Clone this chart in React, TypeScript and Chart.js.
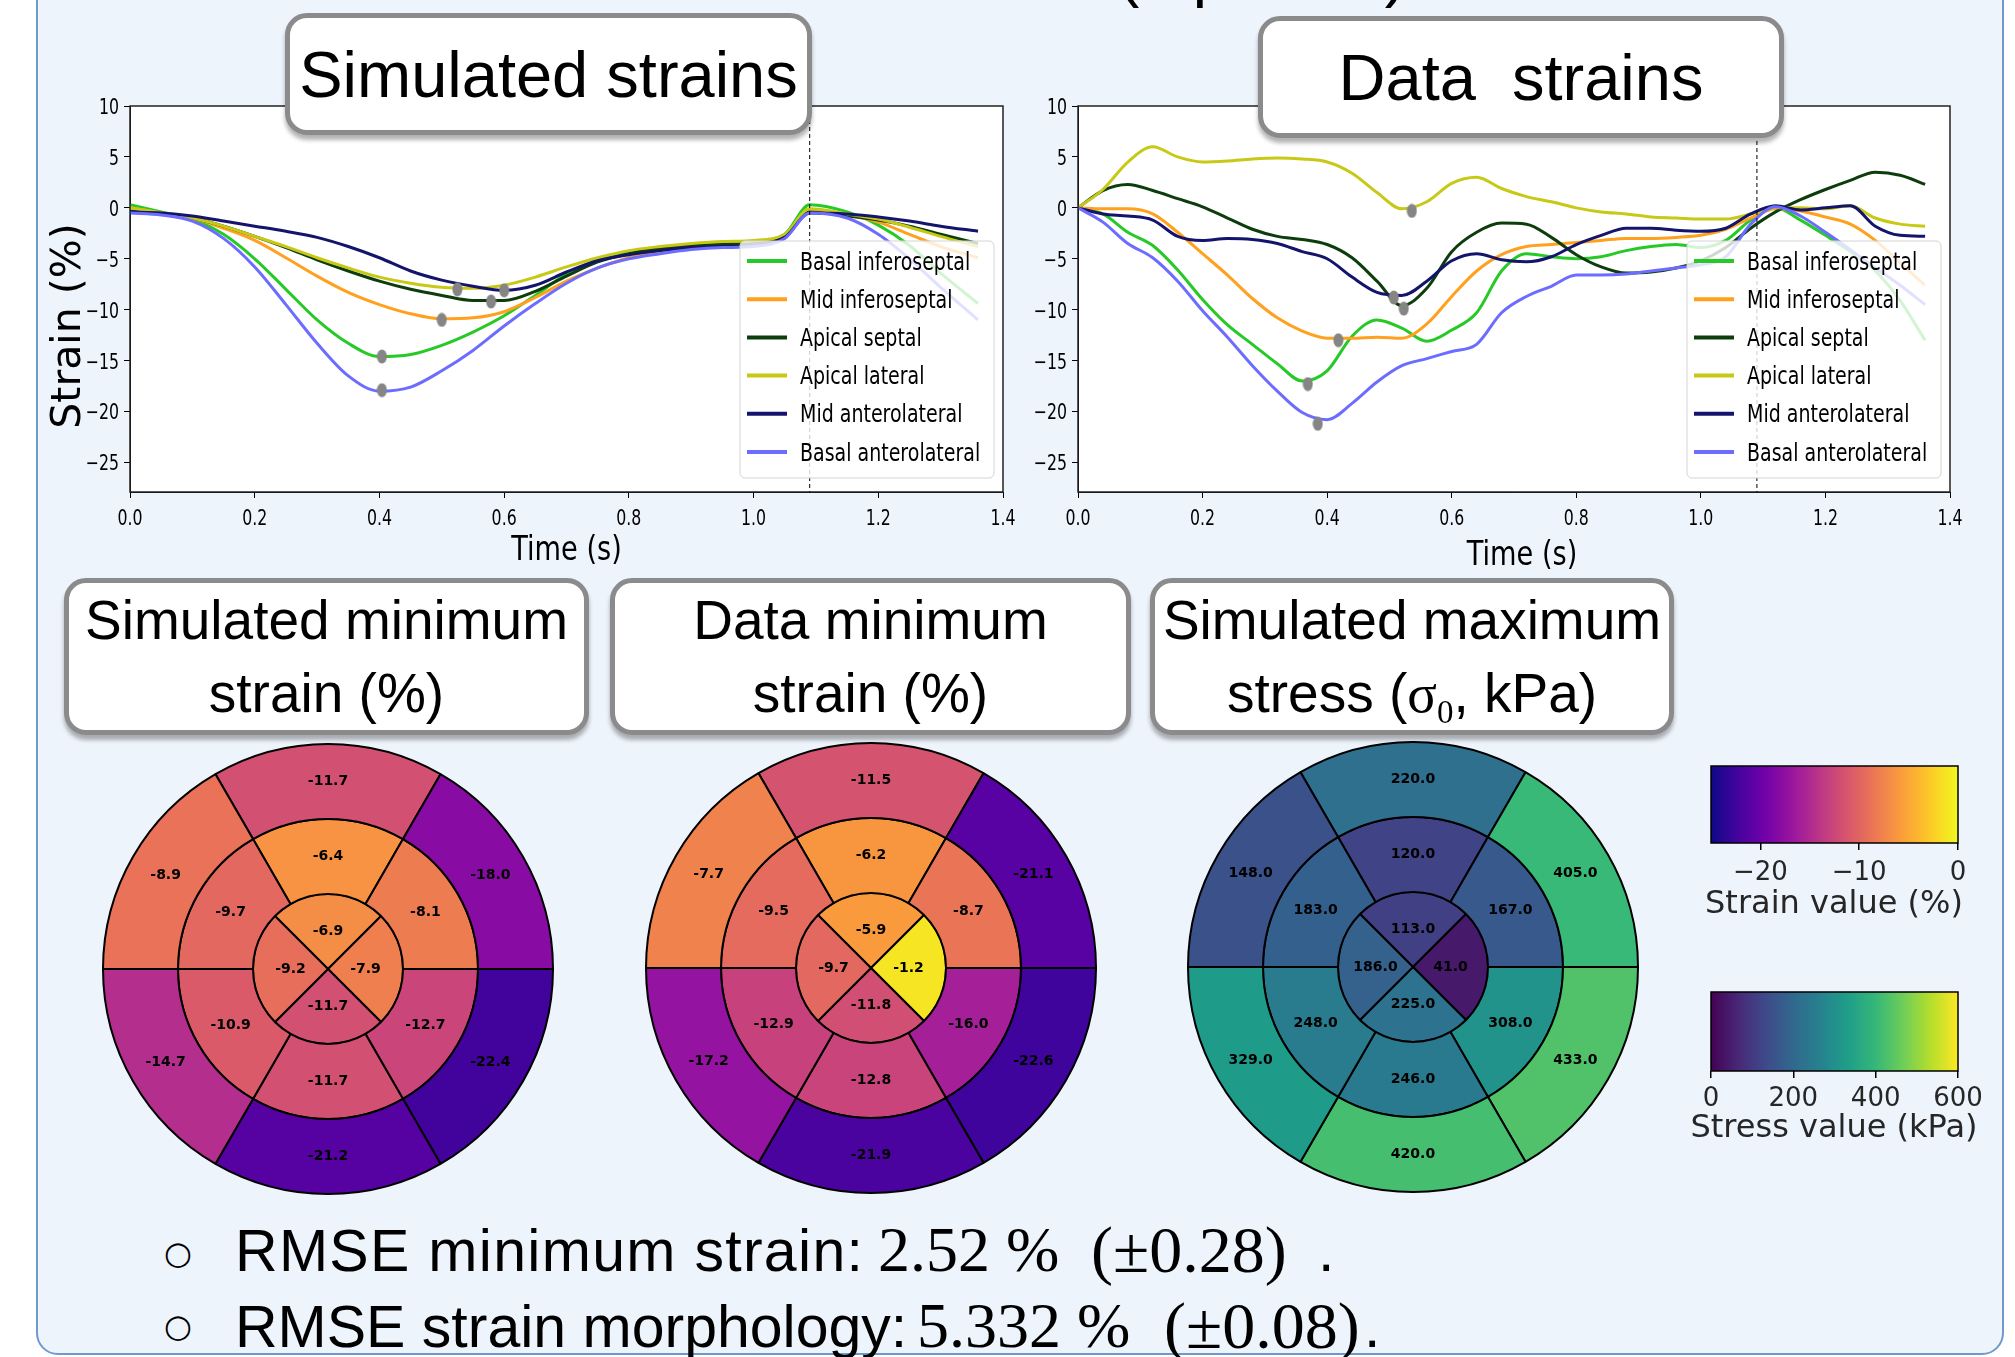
import React, { useEffect, useRef } from 'react';
import { Chart, registerables } from 'chart.js';

Chart.register(...registerables);

// ---------------- DATA ----------------
const segmentNames = ['Basal inferoseptal', 'Mid inferoseptal', 'Apical septal', 'Apical lateral', 'Mid anterolateral', 'Basal anterolateral'];
const seriesColors = ['#27c927', '#ffa11e', '#0d3d0d', '#c8c816', '#14146c', '#6c6cff'];

const timeTicks = [0, 0.2, 0.4, 0.6, 0.8, 1.0, 1.2, 1.4];
const strainTicks = [-25, -20, -15, -10, -5, 0, 5, 10];
const endDiastoleTime = 1.09;

// Simulated strains (%)
const simTime = [0, 0.05, 0.1, 0.15, 0.2, 0.25, 0.3, 0.35, 0.4, 0.45, 0.5, 0.55, 0.6, 0.65, 0.7, 0.75, 0.8, 0.85, 0.9, 0.95, 1.0, 1.05, 1.09, 1.15, 1.2, 1.25, 1.3, 1.36];
const simBasalInferoseptal = [0.3, -0.4, -1.1, -2.6, -5.0, -8.0, -11.0, -13.3, -14.6, -14.4, -13.5, -12.2, -10.6, -8.6, -6.5, -5.1, -4.3, -3.9, -3.6, -3.4, -3.3, -2.6, 0.3, -0.4, -1.7, -3.7, -6.4, -9.4];
const simMidInferoseptal = [0.0, -0.5, -1.0, -2.0, -3.2, -4.9, -6.7, -8.3, -9.5, -10.4, -10.9, -10.8, -10.2, -8.8, -7.2, -5.9, -4.9, -4.3, -3.9, -3.7, -3.6, -2.9, -0.2, -0.7, -1.4, -2.6, -3.8, -4.9];
const simApicalSeptal = [-0.3, -0.6, -1.0, -1.8, -2.8, -3.9, -5.1, -6.2, -7.2, -8.0, -8.6, -9.1, -9.1, -8.2, -6.7, -5.3, -4.5, -4.0, -3.7, -3.6, -3.5, -2.8, -0.4, -0.8, -1.2, -1.8, -2.6, -3.5];
const simApicalLateral = [0.0, -0.5, -1.0, -1.8, -2.8, -3.8, -4.9, -5.9, -6.8, -7.4, -7.8, -7.9, -7.6, -6.8, -5.8, -4.9, -4.2, -3.8, -3.5, -3.3, -3.2, -2.6, -0.1, -0.6, -1.1, -1.9, -2.8, -3.8];
const simMidAnterolateral = [-0.4, -0.5, -0.8, -1.3, -1.8, -2.3, -2.9, -3.8, -4.9, -6.2, -7.1, -7.7, -8.1, -7.6, -6.3, -5.2, -4.6, -4.2, -3.9, -3.8, -3.7, -2.9, -0.5, -0.6, -0.9, -1.3, -1.8, -2.3];
const simBasalAnterolateral = [-0.5, -0.7, -1.3, -3.0, -5.8, -9.5, -13.3, -16.5, -18.0, -17.6, -16.0, -14.0, -11.6, -9.4, -7.4, -5.9, -5.0, -4.5, -4.1, -3.9, -3.8, -3.0, -0.5, -1.0, -2.6, -5.0, -7.8, -11.0];
const simMinTime = [0.404, 0.5, 0.579, 0.525, 0.6, 0.404];
const simMinStrain = [-14.6, -11.0, -9.2, -8.0, -8.1, -17.9];

// Data strains (%)
const dataTime = [0, 0.04, 0.08, 0.12, 0.16, 0.2, 0.24, 0.28, 0.32, 0.36, 0.4, 0.44, 0.48, 0.52, 0.56, 0.6, 0.64, 0.68, 0.72, 0.76, 0.8, 0.84, 0.88, 0.92, 0.96, 1.0, 1.04, 1.08, 1.12, 1.16, 1.2, 1.24, 1.28, 1.32, 1.36];
const dataBasalInferoseptal = [0, -0.6, -2.4, -3.7, -6.1, -9.0, -11.5, -13.4, -15.3, -17.0, -16.0, -12.6, -11.0, -11.8, -13.1, -12.0, -10.3, -6.2, -4.5, -4.8, -5.0, -4.8, -4.2, -3.8, -3.6, -3.9, -3.2, -1.2, 0.0, -1.2, -2.7, -4.3, -6.2, -9.1, -13.0];
const dataMidInferoseptal = [0, -0.1, -0.1, -0.6, -2.4, -4.5, -6.6, -8.9, -10.8, -12.1, -12.8, -12.8, -12.7, -12.8, -11.4, -8.7, -6.2, -4.6, -3.8, -3.6, -3.4, -3.2, -3.0, -3.0, -2.9, -2.7, -2.1, -1.0, -0.1, -0.3, -0.9, -1.6, -3.2, -5.4, -7.6];
const dataApicalSeptal = [0, 1.7, 2.3, 1.7, 0.9, 0.1, -1.0, -2.1, -2.8, -3.1, -3.6, -4.9, -7.2, -9.6, -7.9, -4.3, -2.4, -1.5, -1.6, -2.9, -4.6, -5.8, -6.4, -6.3, -5.9, -5.2, -3.9, -2.0, -0.4, 0.8, 1.8, 2.7, 3.5, 3.2, 2.3];
const dataApicalLateral = [0, 1.8, 4.5, 6.0, 5.0, 4.5, 4.6, 4.8, 4.9, 4.8, 4.5, 3.4, 1.5, -0.1, 0.6, 2.4, 3.0, 1.9, 1.1, 0.6, 0.0, -0.4, -0.6, -0.9, -1.0, -1.1, -1.1, -0.6, 0.0, 0.0, -0.1, 0.2, -1.0, -1.6, -1.8];
const dataMidAnterolateral = [0, -0.6, -0.8, -1.2, -2.8, -3.2, -3.0, -3.1, -3.5, -4.3, -5.0, -6.8, -8.3, -8.6, -7.2, -5.2, -4.5, -5.1, -5.3, -4.8, -3.6, -2.7, -2.0, -2.0, -2.2, -2.3, -2.0, -0.6, 0.2, -0.2, 0.0, 0.2, -1.8, -2.7, -2.8];
const dataBasalAnterolateral = [0, -1.4, -3.5, -4.9, -7.2, -10.1, -12.7, -15.5, -18.0, -20.1, -20.8, -19.2, -17.1, -15.5, -14.8, -14.1, -13.4, -10.3, -8.7, -7.7, -6.6, -6.6, -6.5, -6.2, -5.9, -5.6, -4.8, -1.6, 0.1, -0.8, -2.4, -4.1, -5.9, -7.6, -9.5];
const dataMinTime = [0.369, 0.418, 0.523, 0.536, 0.507, 0.385];
const dataMinStrain = [-17.3, -13.0, -9.9, -0.3, -8.8, -21.2];

// Bullseye values, AHA order: basal 1-6, mid 7-12, apical 13-16
const simStrainBasal = [-11.7, -8.9, -14.7, -21.2, -22.4, -18.0];
const simStrainMid = [-6.4, -9.7, -10.9, -11.7, -12.7, -8.1];
const simStrainApical = [-6.9, -9.2, -11.7, -7.9];
const dataStrainBasal = [-11.5, -7.7, -17.2, -21.9, -22.6, -21.1];
const dataStrainMid = [-6.2, -9.5, -12.9, -12.8, -16.0, -8.7];
const dataStrainApical = [-5.9, -9.7, -11.8, -1.2];
const simStressBasal = [220, 148, 329, 420, 433, 405];
const simStressMid = [120, 183, 248, 246, 308, 167];
const simStressApical = [113, 186, 225, 41];

const strainRange = [-25, 0];
const stressRange = [0, 600];
const strainColorbarTicks = [-20, -10, 0];
const stressColorbarTicks = [0, 200, 400, 600];

// ---------------- STYLE ----------------
const SANS = "'Liberation Sans', Arial, sans-serif";
const DEJAVU = "'DejaVu Sans', sans-serif";
const SERIF = "'Liberation Serif', 'Times New Roman', serif";

const plasmaStops = ['#0d0887', '#46039f', '#7201a8', '#9c179e', '#bd3786', '#d8576b', '#ed7953', '#fb9f3a', '#fdca26', '#f0f921'];
const viridisStops = ['#440154', '#482878', '#3e4a89', '#31688e', '#26828e', '#1f9e89', '#35b779', '#6ece58', '#b5de2b', '#fde725'];

function hexToRgb(h: string) {
  return [parseInt(h.slice(1, 3), 16), parseInt(h.slice(3, 5), 16), parseInt(h.slice(5, 7), 16)];
}
function makeCmap(stops: string[]) {
  const rgb = stops.map(hexToRgb);
  return (t: number) => {
    const c = Math.max(0, Math.min(1, t)) * (rgb.length - 1);
    const i = Math.min(rgb.length - 2, Math.floor(c));
    const f = c - i;
    const a = rgb[i], b = rgb[i + 1];
    return `rgb(${Math.round(a[0] + (b[0] - a[0]) * f)},${Math.round(a[1] + (b[1] - a[1]) * f)},${Math.round(a[2] + (b[2] - a[2]) * f)})`;
  };
}
const plasma = makeCmap(plasmaStops);
const viridis = makeCmap(viridisStops);

const minusFmt = (v: number) => (v < 0 ? '\u2212' + Math.abs(v) : String(v));

function makeMarker() {
  const c = document.createElement('canvas');
  c.width = 11;
  c.height = 15;
  const g = c.getContext('2d')!;
  g.fillStyle = '#858585';
  g.beginPath();
  g.ellipse(5.5, 7.5, 5, 7, 0, 0, Math.PI * 2);
  g.fill();
  return c;
}

// text drawn horizontally condensed (the original figure is squeezed horizontally)
function squeezedText(ctx: CanvasRenderingContext2D, text: string, x: number, y: number, k: number, align: CanvasTextAlign) {
  ctx.save();
  ctx.translate(x, y);
  ctx.scale(k, 1);
  ctx.textAlign = align;
  ctx.fillText(text, 0, 0);
  ctx.restore();
}

// ---------------- LINE CHART ----------------
function StrainChart(props: any) {
  const ref = useRef<HTMLCanvasElement>(null);
  const { left, top, width, height, yAxisWidth, padTop, padRight, xAxisHeight, xTitleY, xTitleDx, time, series, minTime, minStrain, yTitle } = props;
  useEffect(() => {
    const canvas = ref.current!;
    const marker = makeMarker();
    const datasets: any[] = series.map((vals: number[], i: number) => ({
      label: segmentNames[i],
      data: time.map((t: number, k: number) => ({ x: t, y: vals[k] })),
      borderColor: seriesColors[i],
      backgroundColor: seriesColors[i],
      borderWidth: 3,
      pointRadius: 0,
      fill: false,
      cubicInterpolationMode: 'monotone',
      order: 10 - i,
    }));
    datasets.push({
      label: 'minimum',
      data: minTime.map((t: number, i: number) => ({ x: t, y: minStrain[i] })),
      showLine: false,
      pointStyle: marker,
      pointRadius: 6,
      backgroundColor: '#858585',
      borderColor: '#858585',
      order: -1,
    });

    const framePlugin = {
      id: 'frame',
      beforeDraw(chart: any) {
        const { ctx, chartArea: ca } = chart;
        ctx.save();
        ctx.fillStyle = '#ffffff';
        ctx.fillRect(ca.left, ca.top, ca.right - ca.left, ca.bottom - ca.top);
        ctx.restore();
      },
      afterDatasetsDraw(chart: any) {
        const { ctx, chartArea: ca } = chart;
        ctx.save();
        ctx.strokeStyle = '#222';
        ctx.lineWidth = 1.5;
        ctx.strokeRect(ca.left, ca.top, ca.right - ca.left, ca.bottom - ca.top);
        // dashed end-diastole line
        const px = chart.scales.x.getPixelForValue(endDiastoleTime);
        ctx.setLineDash([4, 3]);
        ctx.lineWidth = 1;
        ctx.strokeStyle = '#000';
        ctx.beginPath();
        ctx.moveTo(px, ca.top);
        ctx.lineTo(px, ca.bottom);
        ctx.stroke();
        ctx.setLineDash([]);
        // legend
        const W = 254, H = 237;
        const lx = ca.right - 9 - W, ly = ca.bottom - 14 - H;
        ctx.beginPath();
        (ctx as any).roundRect(lx, ly, W, H, 5);
        ctx.fillStyle = 'rgba(255,255,255,0.8)';
        ctx.fill();
        ctx.strokeStyle = '#d4d4d4';
        ctx.lineWidth = 1;
        ctx.stroke();
        const ds = chart.data.datasets.slice(0, segmentNames.length);
        ds.forEach((d: any, i: number) => {
          const cy = ly + 20 + i * 38.2;
          ctx.strokeStyle = d.borderColor;
          ctx.lineWidth = 4;
          ctx.beginPath();
          ctx.moveTo(lx + 7, cy);
          ctx.lineTo(lx + 47, cy);
          ctx.stroke();
          ctx.fillStyle = '#000';
          ctx.font = `25px ${DEJAVU}`;
          ctx.textBaseline = 'middle';
          squeezedText(ctx, d.label, lx + 60, cy + 2, 0.76, 'left');
        });
        ctx.restore();
      },
      afterDraw(chart: any) {
        const { ctx, chartArea: ca } = chart;
        const xs = chart.scales.x, ys = chart.scales.y;
        ctx.save();
        ctx.fillStyle = '#000';
        ctx.textBaseline = 'middle';
        ctx.font = `21px ${DEJAVU}`;
        xs.ticks.forEach((t: any) => squeezedText(ctx, Number(t.value).toFixed(1), xs.getPixelForValue(t.value), ca.bottom + 28, 0.75, 'center'));
        ys.ticks.forEach((t: any) => squeezedText(ctx, minusFmt(Number(t.value)), ca.left - 11, ys.getPixelForValue(t.value) + 2.5, 0.75, 'right'));
        ctx.font = `34px ${DEJAVU}`;
        squeezedText(ctx, 'Time (s)', (ca.left + ca.right) / 2 + xTitleDx, xTitleY, 0.8, 'center');
        if (yTitle) {
          ctx.translate(yTitle.x, yTitle.y);
          ctx.rotate(-Math.PI / 2);
          ctx.font = `41px ${DEJAVU}`;
          ctx.textAlign = 'center';
          ctx.fillText(yTitle.text, 0, 0);
        }
        ctx.restore();
      },
    };

    const chart = new Chart(canvas, {
      type: 'line',
      data: { datasets },
      options: {
        animation: false,
        responsive: false,
        devicePixelRatio: 1,
        events: [],
        layout: { padding: { top: padTop, right: padRight, left: 0, bottom: 0 } },
        plugins: { legend: { display: false }, tooltip: { enabled: false } },
        scales: {
          x: {
            type: 'linear',
            min: 0,
            max: 1.4,
            afterBuildTicks: (s: any) => { s.ticks = timeTicks.map((v) => ({ value: v })); },
            afterFit: (s: any) => { s.height = xAxisHeight; },
            ticks: { display: false },
            grid: { drawOnChartArea: false, drawTicks: true, tickLength: 6, color: '#000' },
            border: { display: true, color: '#000', width: 1 },
          },
          y: {
            type: 'linear',
            min: -27.9,
            max: 10,
            afterBuildTicks: (s: any) => { s.ticks = strainTicks.map((v) => ({ value: v })); },
            afterFit: (s: any) => { s.width = yAxisWidth; },
            ticks: { display: false },
            grid: { drawOnChartArea: false, drawTicks: true, tickLength: 6, color: '#000' },
            border: { display: true, color: '#000', width: 1 },
          },
        },
      } as any,
      plugins: [framePlugin],
    });
    return () => chart.destroy();
  }, []);
  return <canvas ref={ref} width={width} height={height} style={{ position: 'absolute', left, top, width, height, zIndex: 1 }} />;
}

// ---------------- BULLSEYE ----------------
const ring6Order = [0, 5, 4, 3, 2, 1]; // clockwise from top
const ring4Order = [0, 3, 2, 1];

function Bullseye(props: any) {
  const ref = useRef<HTMLCanvasElement>(null);
  const { cx, cy, basal, mid, apical, cmap, range } = props;
  const size = 456;
  useEffect(() => {
    const col = (v: number) => cmap((v - range[0]) / (range[1] - range[0]));
    const rings = [
      { vals: ring6Order.map((i) => basal[i]), rotation: -30 },
      { vals: ring6Order.map((i) => mid[i]), rotation: -30 },
      { vals: ring4Order.map((i) => apical[i]), rotation: -45 },
    ];
    const datasets = rings.map((r) => ({
      data: r.vals.map(() => 1),
      segmentValues: r.vals,
      backgroundColor: r.vals.map(col),
      borderColor: '#000',
      borderWidth: 2,
      rotation: r.rotation,
    }));
    const labelPlugin = {
      id: 'segLabels',
      afterDatasetsDraw(chart: any) {
        const ctx = chart.ctx;
        ctx.save();
        ctx.font = `bold 14px ${DEJAVU}`;
        ctx.fillStyle = '#000';
        ctx.textAlign = 'center';
        ctx.textBaseline = 'middle';
        chart.data.datasets.forEach((d: any, di: number) => {
          const meta = chart.getDatasetMeta(di);
          meta.data.forEach((arc: any, i: number) => {
            const p = arc.getCenterPoint();
            ctx.fillText(Number(d.segmentValues[i]).toFixed(1), p.x, p.y);
          });
        });
        ctx.restore();
      },
    };
    const chart = new Chart(ref.current!, {
      type: 'doughnut',
      data: { datasets } as any,
      options: {
        animation: false,
        responsive: false,
        devicePixelRatio: 1,
        events: [],
        cutout: 0,
        layout: { padding: 2 },
        plugins: { legend: { display: false }, tooltip: { enabled: false } },
      } as any,
      plugins: [labelPlugin],
    });
    return () => chart.destroy();
  }, []);
  return <canvas ref={ref} width={size} height={size} style={{ position: 'absolute', left: cx - size / 2, top: cy - size / 2, width: size, height: size, zIndex: 1 }} />;
}

// ---------------- COLORBAR ----------------
function Colorbar(props: any) {
  const ref = useRef<HTMLCanvasElement>(null);
  const { left, top, width, height, pad, axisHeight, range, ticks, cmap, tickPad } = props;
  useEffect(() => {
    const gradPlugin = {
      id: 'grad',
      beforeDatasetsDraw(chart: any) {
        const { ctx, chartArea: ca } = chart;
        const g = ctx.createLinearGradient(ca.left, 0, ca.right, 0);
        for (let i = 0; i <= 40; i++) g.addColorStop(i / 40, cmap(i / 40));
        ctx.save();
        ctx.fillStyle = g;
        ctx.fillRect(ca.left, ca.top, ca.right - ca.left, ca.bottom - ca.top);
        ctx.strokeStyle = '#000';
        ctx.lineWidth = 1.5;
        ctx.strokeRect(ca.left, ca.top, ca.right - ca.left, ca.bottom - ca.top);
        ctx.restore();
      },
    };
    const chart = new Chart(ref.current!, {
      type: 'line',
      data: { datasets: [] },
      options: {
        animation: false,
        responsive: false,
        devicePixelRatio: 1,
        events: [],
        layout: { padding: pad },
        plugins: { legend: { display: false }, tooltip: { enabled: false } },
        scales: {
          x: {
            type: 'linear',
            min: range[0],
            max: range[1],
            afterBuildTicks: (s: any) => { s.ticks = ticks.map((v: number) => ({ value: v })); },
            afterFit: (s: any) => { s.height = axisHeight; },
            ticks: { autoSkip: false, maxRotation: 0, padding: tickPad, color: '#262626', font: { family: DEJAVU, size: 26 }, callback: (v: any) => minusFmt(Number(v)) },
            grid: { drawOnChartArea: false, drawTicks: true, tickLength: 7, color: '#000', lineWidth: 1.5 },
            border: { display: false },
          },
          y: { display: false, min: 0, max: 1 },
        },
      } as any,
      plugins: [gradPlugin],
    });
    return () => chart.destroy();
  }, []);
  return <canvas ref={ref} width={width} height={height} style={{ position: 'absolute', left, top, width, height, zIndex: 1 }} />;
}

// ---------------- TITLE BOX ----------------
function TitleBox(props: any) {
  const { left, top, width, height, fontSize, lineHeight, children } = props;
  return (
    <div
      style={{
        position: 'absolute', left, top, width, height, boxSizing: 'border-box',
        background: '#fff', border: '5px solid #8b8b8b', borderRadius: 22,
        boxShadow: '0 5px 4px rgba(0,0,0,0.3)', display: 'flex', flexDirection: 'column',
        alignItems: 'center', justifyContent: 'center', fontFamily: SANS, fontSize,
        lineHeight: lineHeight + 'px', color: '#000', whiteSpace: 'pre', zIndex: 5,
      }}
    >
      {children}
    </div>
  );
}

function TextAt(props: any) {
  const { left, top, size, family, spacing, children } = props;
  return (
    <span style={{ position: 'absolute', left, top, fontFamily: family, fontSize: size, lineHeight: size + 'px', letterSpacing: spacing || 0, whiteSpace: 'pre', color: '#000', zIndex: 3 }}>
      {children}
    </span>
  );
}

function Bullet({ cy }: any) {
  return (
    <div style={{ position: 'absolute', left: 158, top: cy - 20, width: 40, height: 40, display: 'flex', alignItems: 'center', justifyContent: 'center', fontFamily: DEJAVU, fontSize: 32, lineHeight: '40px', color: '#000', zIndex: 3 }}>
      {'\u25CB'}
    </div>
  );
}

export default function App() {
  useEffect(() => {
    document.body.style.margin = '0';
  }, []);
  const simSeries = [simBasalInferoseptal, simMidInferoseptal, simApicalSeptal, simApicalLateral, simMidAnterolateral, simBasalAnterolateral];
  const dataSeries = [dataBasalInferoseptal, dataMidInferoseptal, dataApicalSeptal, dataApicalLateral, dataMidAnterolateral, dataBasalAnterolateral];
  return (
    <div style={{ position: 'absolute', left: 0, top: 0, width: 2015, height: 1357, overflow: 'hidden', background: '#ffffff' }}>
      <div style={{ position: 'absolute', left: 36, top: -30, width: 1968, height: 1385, boxSizing: 'border-box', background: '#eef4fc', border: '2px solid #6f99cc', borderRadius: 22 }} />
      <TextAt left={1118} top={-59} size={64} family={SANS}>(1 patient)</TextAt>

      <StrainChart left={30} top={80} width={992} height={496} yAxisWidth={100} padTop={26} padRight={19} xAxisHeight={84} xTitleY={471} xTitleDx={0}
        time={simTime} series={simSeries} minTime={simMinTime} minStrain={simMinStrain} yTitle={{ text: 'Strain (%)', x: 39, y: 246 }} />
      <StrainChart left={1000} top={80} width={970} height={496} yAxisWidth={78} padTop={26} padRight={20} xAxisHeight={84} xTitleY={476} xTitleDx={8}
        time={dataTime} series={dataSeries} minTime={dataMinTime} minStrain={dataMinStrain} yTitle={null} />

      <TitleBox left={285} top={13} width={527} height={122} fontSize={65} lineHeight={75}>Simulated strains</TitleBox>
      <TitleBox left={1258} top={16} width={526} height={122} fontSize={65} lineHeight={75}>{'Data  strains'}</TitleBox>

      <TitleBox left={64} top={578} width={525} height={157} fontSize={55} lineHeight={73}>
        <div>Simulated minimum</div>
        <div>strain (%)</div>
      </TitleBox>
      <TitleBox left={610} top={578} width={521} height={157} fontSize={55} lineHeight={73}>
        <div>Data minimum</div>
        <div>strain (%)</div>
      </TitleBox>
      <TitleBox left={1150} top={578} width={524} height={157} fontSize={55} lineHeight={73}>
        <div>Simulated maximum</div>
        <div>
          stress (<span style={{ fontFamily: SERIF }}>σ<span style={{ fontSize: '0.6em', lineHeight: 0, position: 'relative', top: '0.35em' }}>0</span></span>, kPa)
        </div>
      </TitleBox>

      <Bullseye cx={328} cy={969} basal={simStrainBasal} mid={simStrainMid} apical={simStrainApical} cmap={plasma} range={strainRange} />
      <Bullseye cx={871} cy={968} basal={dataStrainBasal} mid={dataStrainMid} apical={dataStrainApical} cmap={plasma} range={strainRange} />
      <Bullseye cx={1413} cy={967} basal={simStressBasal} mid={simStressMid} apical={simStressApical} cmap={viridis} range={stressRange} />

      <Colorbar left={1670} top={750} width={330} height={170} pad={{ left: 41, right: 42, top: 16, bottom: 0 }} axisHeight={77}
        range={strainRange} ticks={strainColorbarTicks} cmap={plasma} tickPad={8} />
      <div style={{ position: 'absolute', left: 1634, top: 883, width: 400, textAlign: 'center', fontFamily: DEJAVU, fontSize: 32, lineHeight: '38px', color: '#262626', zIndex: 3 }}>Strain value (%)</div>

      <Colorbar left={1670} top={975} width={330} height={170} pad={{ left: 41, right: 42, top: 17, bottom: 0 }} axisHeight={74}
        range={stressRange} ticks={stressColorbarTicks} cmap={viridis} tickPad={6} />
      <div style={{ position: 'absolute', left: 1634, top: 1107, width: 400, textAlign: 'center', fontFamily: DEJAVU, fontSize: 32, lineHeight: '38px', color: '#262626', zIndex: 3 }}>Stress value (kPa)</div>

      <Bullet cy={1253} />
      <TextAt left={235} top={1222} size={59} family={SANS} spacing={1.3}>RMSE minimum strain:</TextAt>
      <TextAt left={878} top={1218} size={64} family={SERIF}>{'2.52 %'}</TextAt>
      <TextAt left={1091} top={1217} size={66} family={SERIF}>{'(±0.28)'}</TextAt>
      <TextAt left={1318} top={1222} size={59} family={SANS}>.</TextAt>

      <Bullet cy={1326} />
      <TextAt left={235} top={1298} size={59} family={SANS}>RMSE strain morphology:</TextAt>
      <TextAt left={917} top={1294} size={64} family={SERIF}>{'5.332 %'}</TextAt>
      <TextAt left={1164} top={1293} size={66} family={SERIF}>{'(±0.08)'}</TextAt>
      <TextAt left={1364} top={1298} size={59} family={SANS}>.</TextAt>
    </div>
  );
}
